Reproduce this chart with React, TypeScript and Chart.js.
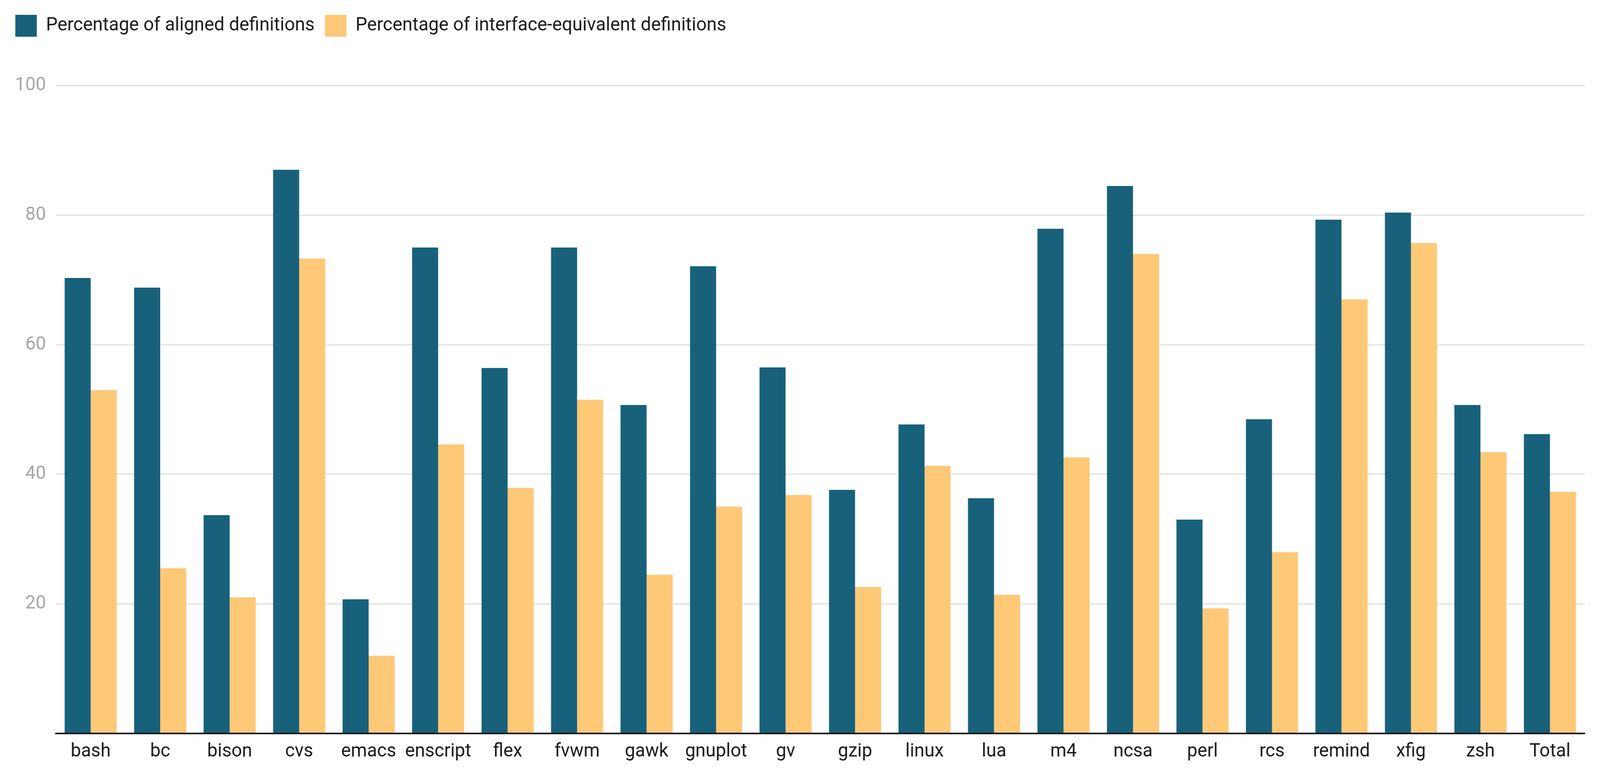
import React, { useEffect, useRef, useState } from 'react';
import { Chart, registerables } from 'chart.js';

Chart.register(...registerables);

const categories = ['bash', 'bc', 'bison', 'cvs', 'emacs', 'enscript', 'flex', 'fvwm', 'gawk', 'gnuplot', 'gv', 'gzip', 'linux', 'lua', 'm4', 'ncsa', 'perl', 'rcs', 'remind', 'xfig', 'zsh', 'Total'];
const seriesNames = ['Percentage of aligned definitions', 'Percentage of interface-equivalent definitions'];
const alignedValues = [70.3, 68.8, 33.7, 87.0, 20.7, 75.0, 56.4, 75.0, 50.7, 72.1, 56.5, 37.6, 47.7, 36.3, 77.9, 84.5, 33.0, 48.5, 79.3, 80.4, 50.7, 46.2];
const interfaceValues = [53.0, 25.5, 21.0, 73.3, 12.0, 44.6, 37.9, 51.5, 24.5, 35.0, 36.8, 22.6, 41.3, 21.4, 42.6, 74.0, 19.3, 28.0, 67.0, 75.7, 43.4, 37.3];
const yTickValues = [0, 20, 40, 60, 80, 100];

const darkColor = '#17617b';
const lightColor = '#fec977';

const W = 4176;
const H = 1969;

export default function App() {
  const canvasRef = useRef<HTMLCanvasElement | null>(null);
  const [scale, setScale] = useState({ sx: 1, sy: 1 });

  useEffect(() => {
    document.body.style.margin = '0';
    document.body.style.overflow = 'hidden';
    const sx = Math.min(1, window.innerWidth / W);
    const sy = Math.min(1, window.innerHeight / H);
    setScale({ sx, sy });

    const canvas = canvasRef.current;
    if (!canvas) return;

    const legendSpacing = {
      id: 'legendSpacing',
      beforeInit(chart: any) {
        const orig = chart.legend.fit;
        chart.legend.fit = function () {
          orig.bind(chart.legend)();
          this.height = 208;
        };
      },
    };

    const chart = new Chart(canvas, {
      type: 'bar',
      data: {
        labels: categories,
        datasets: [
          { label: seriesNames[0], data: alignedValues, backgroundColor: darkColor, borderWidth: 0 },
          { label: seriesNames[1], data: interfaceValues, backgroundColor: lightColor, borderWidth: 0 },
        ],
      },
      options: {
        animation: false,
        responsive: false,
        devicePixelRatio: 1,
        layout: { padding: { left: 13, top: 11, right: 40, bottom: 0 } },
        datasets: { bar: { categoryPercentage: 0.75, barPercentage: 1 } },
        plugins: {
          legend: {
            position: 'top',
            align: 'start',
            labels: {
              boxWidth: 56,
              boxHeight: 56,
              padding: 27,
              color: '#1a1a1a',
              font: { family: 'Roboto', size: 48 },
            },
          },
          tooltip: { enabled: false },
        },
        scales: {
          x: {
            grid: { display: false },
            border: { display: true, color: '#1a1a1a', width: 4 },
            ticks: {
              color: '#1a1a1a',
              font: { family: 'Roboto', size: 48 },
              padding: 10,
              maxRotation: 0,
              autoSkip: false,
            },
            afterFit(s: any) {
              s.height = 91;
            },
          },
          y: {
            min: 0,
            max: 100,
            afterBuildTicks(s: any) {
              s.ticks = yTickValues.map((v) => ({ value: v }));
            },
            grid: { color: '#e6e6e6', lineWidth: 4, drawTicks: false },
            border: { display: false },
            ticks: {
              color: '#a6a6a6',
              font: { family: 'Roboto', size: 48 },
              padding: 26,
              callback: (v: any) => (v === 0 ? '' : String(v)),
            },
            afterFit(s: any) {
              s.width = 133;
            },
          },
        },
      },
      plugins: [legendSpacing],
    });

    return () => {
      chart.destroy();
    };
  }, []);

  return (
    <div style={{ position: 'fixed', left: 0, top: 0, width: '100vw', height: '100vh', background: '#fff', overflow: 'hidden' }}>
      <div
        style={{
          width: W + 'px',
          height: H + 'px',
          transform: `scale(${scale.sx}, ${scale.sy})`,
          transformOrigin: '0 0',
        }}
      >
        <canvas ref={canvasRef} width={W} height={H} style={{ width: W + 'px', height: H + 'px', display: 'block' }} />
      </div>
    </div>
  );
}
